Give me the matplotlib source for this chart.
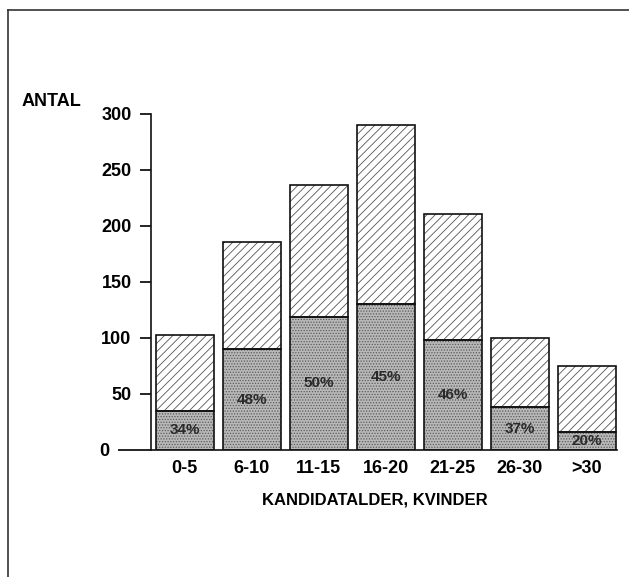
"""
Kandidatalder for kvinder: antal i alt med andel markeret i bunden af hver søjle
"""
import matplotlib
matplotlib.use('Agg')
import matplotlib.pyplot as plt
from matplotlib.lines import Line2D

plt.rcParams['font.family'] = ['Liberation Sans', 'DejaVu Sans']
plt.rcParams['font.weight'] = 'bold'
plt.rcParams['hatch.linewidth'] = 0.6

# Data
groups = ['0-5', '6-10', '11-15', '16-20', '21-25', '26-30', '>30']
totals = [103, 186, 237, 290, 211, 100, 75]
lower = [35, 90, 119, 130, 98, 38, 16]
pct_labels = ['34%', '48%', '50%', '45%', '46%', '37%', '20%']
yticks = [50, 100, 150, 200, 250, 300]

W, H = 629, 577
fig = plt.figure(figsize=(W / 100, H / 100), dpi=100)
ax = fig.add_axes([151 / W, 1 - 450 / H, 466 / W, 336 / H])

x = range(len(groups))
width = 0.865
upper = [t - l for t, l in zip(totals, lower)]
fs = 13

# stippled lower part
ax.bar(x, lower, width=width, color='#b8b8b8', edgecolor='#5a5a5a',
       hatch='......', linewidth=0, zorder=2)
# hatched upper part
ax.bar(x, upper, width=width, bottom=lower, color='white', edgecolor='#555555',
       hatch='////', linewidth=0, zorder=2)
# outlines
ax.bar(x, lower, width=width, fill=False, edgecolor='#111111', linewidth=1.2, zorder=3)
ax.bar(x, upper, width=width, bottom=lower, fill=False, edgecolor='#111111',
       linewidth=1.2, zorder=3)

for i, (l, p) in enumerate(zip(lower, pct_labels)):
    ax.text(i, l / 2, p, ha='center', va='center', fontsize=11, fontweight='bold',
            color='#2a2a2a', zorder=4)

ax.set_xlim(-0.5, 6.45)
ax.set_ylim(0, 300)
ax.set_xticks(list(x))
ax.set_xticklabels(groups, fontsize=fs, fontweight='bold')
ax.tick_params(axis='x', length=0, pad=7)

ax.set_yticks(yticks)
ax.set_yticklabels([str(v) for v in yticks], fontsize=fs, fontweight='bold')
ax.tick_params(axis='y', which='major', length=8, width=1.2, pad=6)
# the zero tick runs out further to the left
ax.set_yticks([0], minor=True)
ax.set_yticklabels(['0'], minor=True, fontsize=fs, fontweight='bold')
ax.tick_params(axis='y', which='minor', length=24, width=1.2, pad=6)

for side in ['top', 'right']:
    ax.spines[side].set_visible(False)
for side in ['left', 'bottom']:
    ax.spines[side].set_linewidth(1.2)
    ax.spines[side].set_color('#111111')

fig.text(22 / W, 1 - 101 / H, 'ANTAL', fontsize=fs, fontweight='bold', va='center')
fig.text(375 / W, 1 - 500 / H, 'KANDIDATALDER, KVINDER', fontsize=12,
         fontweight='bold', ha='center', va='center')

# frame lines along the top and left edge
fig.add_artist(Line2D([8 / W, 1], [1 - 10 / H, 1 - 10 / H], color='#333333', linewidth=1.2))
fig.add_artist(Line2D([8 / W, 8 / W], [0, 1 - 10 / H], color='#333333', linewidth=1.2))

plt.savefig('out.png', dpi=100)
